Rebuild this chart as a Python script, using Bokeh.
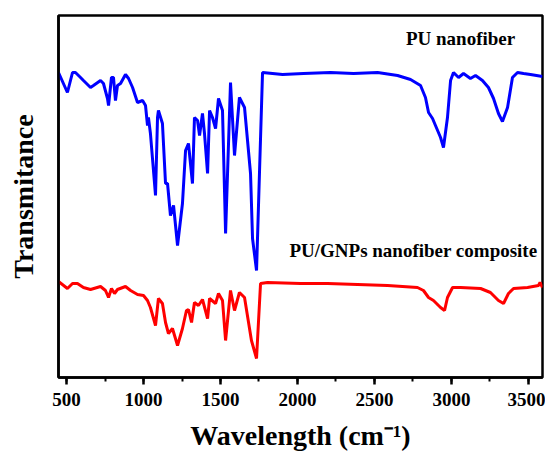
from bokeh.plotting import figure
from bokeh.models import Range1d, SingleIntervalTicker, Label, FixedTicker
from bokeh.embed import file_html
from bokeh.resources import INLINE

# Wavenumber (cm^-1) and transmittance (a.u.)
pu_wn = [448, 506, 539, 558, 591, 610, 656, 675, 721, 740, 766, 773, 792, 805, 818, 831,
         851, 883, 903, 929, 961, 994, 1013, 1026, 1032, 1045, 1078, 1091, 1097, 1123, 1143,
         1156, 1175, 1195, 1221, 1253, 1273, 1292, 1318, 1331, 1351, 1364, 1383, 1396, 1416,
         1429, 1448, 1468, 1487, 1513, 1533, 1565, 1591, 1623, 1656, 1695, 1708, 1734, 1753,
         1773, 1903, 2039, 2214, 2364, 2520, 2650, 2734, 2799, 2831, 2851, 2877, 2896, 2929,
         2948, 2974, 2994, 3013, 3046, 3078, 3123, 3156, 3201, 3240, 3273, 3305, 3331, 3364,
         3396, 3429, 3468, 3513, 3591]
pu_t = [305, 285, 305, 305, 300, 297, 290, 292, 297, 294, 279, 272, 300, 300, 277, 292,
        294, 303, 299, 290, 275, 277, 272, 252, 260, 244, 182, 260, 267, 254, 194,
        194, 162, 172, 132, 174, 227, 234, 194, 260, 257, 242, 264, 244, 204,
        267, 260, 249, 279, 267, 144, 295, 222, 280, 270, 204, 139, 107, 204,
        305, 303, 304, 305, 304, 305, 302, 298, 292, 280, 265, 259, 252, 240,
        230, 260, 297, 305, 300, 304, 299, 302, 297, 290, 279, 264, 256, 270,
        300, 305, 304, 303, 301]

gnp_wn = [448, 506, 539, 571, 610, 656, 721, 753, 773, 792, 812, 831, 883, 916, 961, 1000,
          1026, 1045, 1078, 1097, 1123, 1143, 1162, 1188, 1221, 1253, 1279, 1292, 1312, 1331,
          1357, 1383, 1416, 1429, 1468, 1487, 1513, 1533, 1565, 1591, 1623, 1656, 1701, 1734,
          1760, 1805, 2020, 2195, 2585, 2779, 2818, 2851, 2883, 2929, 2955, 2974, 3007, 3059,
          3189, 3253, 3305, 3338, 3370, 3403, 3494, 3565, 3575, 3591]
gnp_t = [96, 89, 94, 94, 90, 88, 91, 87, 80, 89, 84, 88, 91, 87, 83, 82,
         77, 70, 52, 79, 74, 55, 44, 49, 32, 49, 67, 68, 55, 75,
         72, 78, 59, 79, 74, 84, 77, 37, 87, 67, 85, 80, 37, 19,
         94, 95, 94, 94, 92, 90, 87, 80, 77, 70, 67, 80, 90, 90,
         89, 85, 77, 74, 84, 89, 90, 92, 95, 90]

FONT = "Liberation Serif"

p = figure(output_backend="svg", toolbar_location=None,
           x_range=Range1d(448, 3591), y_range=Range1d(0, 362),
           frame_width=484, frame_height=362,
           min_border_left=58, min_border_right=3, min_border_top=15, min_border_bottom=0)
p.background_fill_color = "white"
p.border_fill_color = "white"
p.outline_line_color = "black"
p.outline_line_width = 2.5
p.xgrid.visible = False
p.ygrid.visible = False

p.line(pu_wn, pu_t, line_color="#0000ff", line_width=3)
p.line(gnp_wn, gnp_t, line_color="#ff0000", line_width=3)

p.xaxis.ticker = SingleIntervalTicker(interval=500, num_minor_ticks=2)
p.xaxis.axis_line_width = 2.5
p.xaxis.major_tick_line_width = 2.5
p.xaxis.minor_tick_line_width = 2
p.xaxis.major_tick_in = 0
p.xaxis.major_tick_out = 7
p.xaxis.minor_tick_in = 0
p.xaxis.minor_tick_out = 4
p.xaxis.major_label_text_font = FONT
p.xaxis.major_label_text_font_style = "bold"
p.xaxis.major_label_text_font_size = "19px"
p.xaxis.major_label_text_color = "black"
p.xaxis.major_label_standoff = 8
p.xaxis.axis_label = "Wavelength (cm⁻¹)"
p.xaxis.axis_label_text_font = FONT
p.xaxis.axis_label_text_font_style = "bold"
p.xaxis.axis_label_text_font_size = "28px"
p.xaxis.axis_label_text_color = "black"
p.xaxis.axis_label_standoff = 11

p.yaxis.ticker = FixedTicker(ticks=[])
p.yaxis.axis_line_width = 2.5
p.yaxis.major_tick_line_color = None
p.yaxis.minor_tick_line_color = None
p.yaxis.axis_label = "Transmitance"
p.yaxis.axis_label_text_font = FONT
p.yaxis.axis_label_text_font_style = "bold"
p.yaxis.axis_label_text_font_size = "28px"
p.yaxis.axis_label_text_color = "black"
p.yaxis.axis_label_standoff = 20

p.add_layout(Label(x=3059, y=339, text="PU nanofiber", text_font=FONT,
                   text_font_style="bold", text_font_size="19px", text_align="center",
                   text_baseline="middle", text_color="black"))
p.add_layout(Label(x=2753, y=127, text="PU/GNPs nanofiber composite", text_font=FONT,
                   text_font_style="bold", text_font_size="19px", text_align="center",
                   text_baseline="middle", text_color="black"))

open("out.html", "w").write(file_html(p, INLINE))
